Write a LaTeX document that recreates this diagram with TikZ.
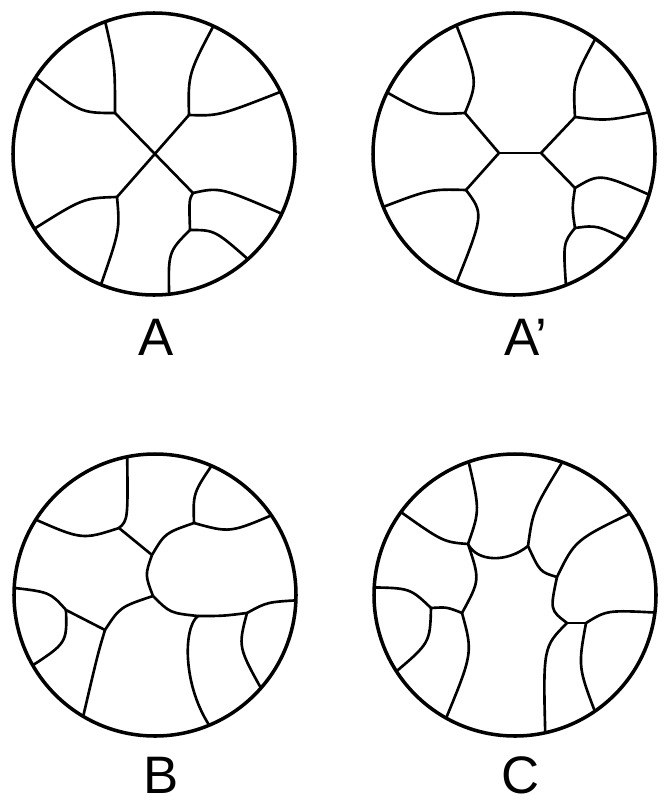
\documentclass[tikz,border=0pt]{standalone}
\usepackage{fontspec}
\setmainfont{Liberation Sans}
\usepackage{tikz}
\usetikzlibrary{positioning}

\begin{document}
\begin{tikzpicture}[
    x=0.01cm, y=-0.01cm,
    borda/.style={line width=1pt},
    grao/.style={line width=0.75pt, line join=round},
    rotulo/.style={font=\fontsize{15}{18}\selectfont, anchor=base, inner sep=0pt}
]
    \useasboundingbox (0,0) rectangle (663,800);

    % A
    \begin{scope}[shift={(154,154)}]
        \coordinate (a1) at (-39,-41);
        \coordinate (a2) at (35,-39);
        \coordinate (a3) at (-37,43);
        \coordinate (a4) at (39,39);
        \coordinate (a5) at (36,76);
        \begin{scope}
            \clip (0,0) circle[radius=141];
            \draw[grao] (-110:146) .. controls (-39,-90) .. (a1);
            \draw[grao] (a1) .. controls (-74,-41) .. (-147:146);
            \draw[grao] (-65:146) .. controls (34,-80) .. (a2);
            \draw[grao] (a2) .. controls (65,-38) .. (-26:146);
            \draw[grao] (a1) -- (a4);
            \draw[grao] (a2) -- (a3);
            \draw[grao] (a3) .. controls (-71,44) .. (148:146);
            \draw[grao] (a3) .. controls (-34,76) .. (112:146);
            \draw[grao] (a4) .. controls (66,33) .. (25:146);
            \draw[grao] (a4) .. controls (35,46) .. (a5);
            \draw[grao] (a5) .. controls (61,76) .. (48:146);
            \draw[grao] (a5) .. controls (14,98) .. (84:146);
        \end{scope}
        \draw[borda] (0,0) circle[radius=141];
    \end{scope}

    % A'
    \begin{scope}[shift={(514,154)}]
        \coordinate (p1) at (-15,-1);
        \coordinate (p2) at (27,-1);
        \coordinate (p3) at (-49,-41);
        \coordinate (p4) at (61,-37);
        \coordinate (p5) at (-48,36);
        \coordinate (p6) at (61,34);
        \coordinate (p7) at (61,74);
        \begin{scope}
            \clip (0,0) circle[radius=141];
            \draw[grao] (p1) -- (p2);
            \draw[grao] (p1) -- (p3);
            \draw[grao] (p1) -- (p5);
            \draw[grao] (p2) -- (p4);
            \draw[grao] (p2) -- (p6);
            \draw[grao] (p3) .. controls (-36,-73) .. (-114:146);
            \draw[grao] (p3) .. controls (-87,-39) .. (-154:146);
            \draw[grao] (p4) .. controls (59,-74) .. (-55:146);
            \draw[grao] (p4) .. controls (93,-33) .. (-17:146);
            \draw[grao] (p5) .. controls (-84,35) .. (158:146);
            \draw[grao] (p5) .. controls (-30,60) .. (114:146);
            \draw[grao] (p6) .. controls (86,19) .. (17:146);
            \draw[grao] (p6) .. controls (58,54) .. (p7);
            \draw[grao] (p7) .. controls (83,71) .. (37:146);
            \draw[grao] (p7) .. controls (49,89) .. (69:146);
        \end{scope}
        \draw[borda] (0,0) circle[radius=141];
    \end{scope}

    % B
    \begin{scope}[shift={(155,595)}]
        \coordinate (b1) at (-36,-67);
        \coordinate (b2) at (-3,-40);
        \coordinate (b3) at (39,-72);
        \coordinate (b4) at (-2,1);
        \coordinate (b5) at (92,18);
        \coordinate (b6) at (43,21);
        \coordinate (b7) at (-50,35);
        \coordinate (b8) at (-89,15);
        \begin{scope}
            \clip (0,0) circle[radius=141];
            \draw[grao] (-101:146) .. controls (-27,-75) .. (b1);
            \draw[grao] (b1) .. controls (-73,-55) .. (-148:146);
            \draw[grao] (b1) -- (b2);
            \draw[grao] (b2) .. controls (10,-62) .. (b3);
            \draw[grao] (b3) .. controls (38,-102) .. (-66:146);
            \draw[grao] (b3) .. controls (75,-62) .. (-34:146);
            \draw[grao] (b2) .. controls (-10,-20) .. (b4);
            \draw[grao] (b4) .. controls (15,18) .. (b6);
            \draw[grao] (b6) .. controls (68,21) .. (b5);
            \draw[grao] (b5) .. controls (112,7) .. (2:146);
            \draw[grao] (b5) .. controls (83,52) .. (42:146);
            \draw[grao] (b6) .. controls (28,32) and (27,92) .. (67:146);
            \draw[grao] (b4) .. controls (-35,12) .. (b7);
            \draw[grao] (b7) -- (b8);
            \draw[grao] (b8) .. controls (-105,-3) .. (-177:146);
            \draw[grao] (b8) .. controls (-88,48) .. (150:146);
            \draw[grao] (b7) .. controls (-57,58) .. (120:146);
        \end{scope}
        \draw[borda] (0,0) circle[radius=141];
    \end{scope}

    % C
    \begin{scope}[shift={(515,595)}]
        \coordinate (c1) at (-47,-51);
        \coordinate (c2) at (13,-49);
        \coordinate (c3) at (42,-18);
        \coordinate (c4) at (52,28);
        \coordinate (c5) at (71,28);
        \coordinate (c6) at (-53,18);
        \coordinate (c7) at (-84,13);
        \begin{scope}
            \clip (0,0) circle[radius=141];
            \draw[grao] (-109:146) .. controls (-35,-85) .. (c1);
            \draw[grao] (c1) .. controls (-72,-53) .. (-144:146);
            \draw[grao] (c1) .. controls (-38,-33) and (-8,-32) .. (c2);
            \draw[grao] (c2) .. controls (18,-85) .. (-70:146);
            \draw[grao] (c2) .. controls (25,-23) .. (c3);
            \draw[grao] (c3) .. controls (60,-55) .. (-35:146);
            \draw[grao] (c3) .. controls (35,15) .. (c4);
            \draw[grao] (c4) -- (c5);
            \draw[grao] (c5) .. controls (92,15) .. (7:146);
            \draw[grao] (c5) .. controls (63,72) .. (56:146);
            \draw[grao] (c4) .. controls (28,52) .. (78:146);
            \draw[grao] (c1) .. controls (-35,-15) .. (c6);
            \draw[grao] (c6) .. controls (-68,12) .. (c7);
            \draw[grao] (c7) .. controls (-105,-7) .. (-177:146);
            \draw[grao] (c7) .. controls (-85,48) .. (147:146);
            \draw[grao] (c6) .. controls (-42,58) .. (119:146);
        \end{scope}
        \draw[borda] (0,0) circle[radius=141];
    \end{scope}

    \node[rotulo] (rotA) at (156,355) {A};
    \node[rotulo] (rotA2) at (526,355) {A’};
    \node[rotulo] (rotB) at (161,793) {B};
    \node[rotulo] (rotC) at (521,793) {C};
\end{tikzpicture}
\end{document}
